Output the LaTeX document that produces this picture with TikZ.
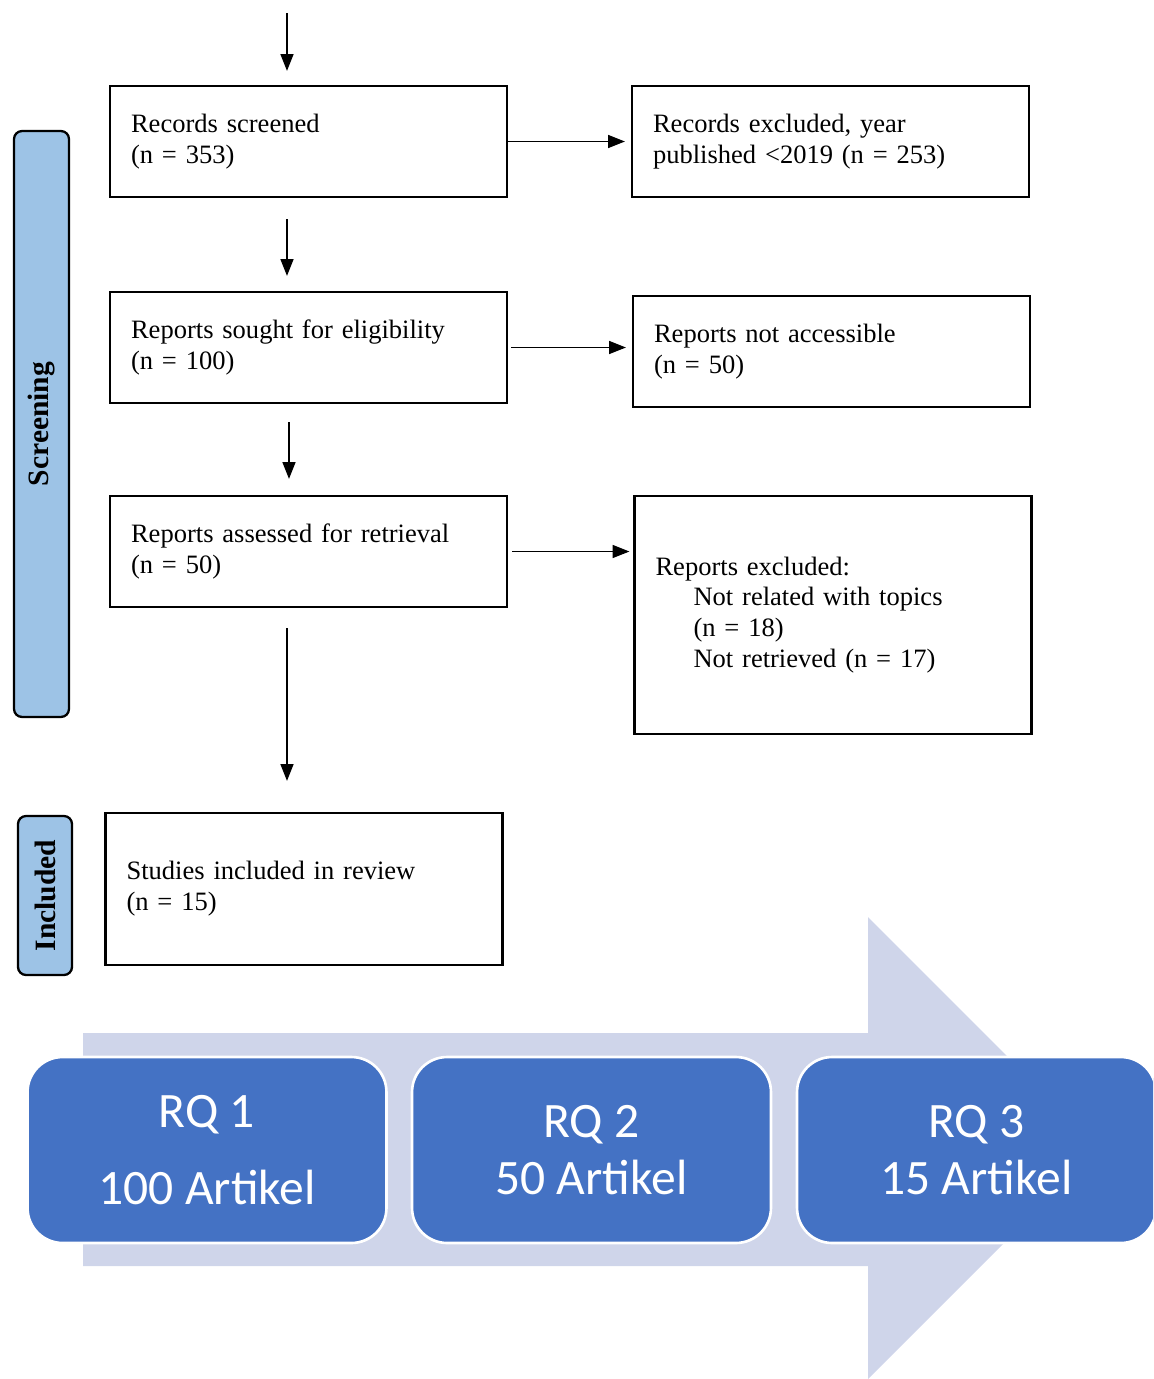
\documentclass[tikz,border=0pt]{standalone}
\usepackage{fontspec}
\setmainfont{Liberation Serif}
\newfontfamily\rqfont{Carlito}
\usetikzlibrary{arrows.meta}
\definecolor{labelblue}{HTML}{9DC3E6}
\definecolor{rqblue}{HTML}{4472C4}
\definecolor{arrowshade}{HTML}{CFD5EA}
\tikzset{
  flowbox/.style={draw=black, line width=1.3pt, minimum width=7.94cm, minimum height=2.22cm,
    inner xsep=0.42cm, text width=7.1cm, align=left, font=\fontsize{15.1}{17.6}\selectfont},
  phase/.style={draw=black, line width=1.3pt, fill=labelblue, rounded corners=0.16cm, rotate=90,
    font=\bfseries\fontsize{16.8}{20}\selectfont},
  rqbox/.style={draw=white, line width=1.5pt, fill=rqblue, rounded corners=0.7cm,
    minimum width=7.18cm, minimum height=3.72cm, text=white, align=center,
    font=\rqfont\fontsize{28.2}{32}\selectfont},
  flow/.style={-{Triangle[length=9.5pt,width=7.4pt]}, line width=0.6pt},
}
\begin{document}
\begin{tikzpicture}[x=0.02cm, y=-0.02cm]
  \useasboundingbox (0,0) rectangle (1153,1379);
  \clip (0,0) rectangle (1153,1379);
  % phase labels
  \node[phase, minimum width=11.72cm, minimum height=1.1cm] (screening) at (41.5,424) {Screening};
  \node[phase, minimum width=3.18cm, minimum height=1.08cm] (included) at (45,895.5) {Included};
  % main column
  \coordinate (spine) at (287,13);
  \node[flowbox] (screened) at (308.5,141.5) {Records screened\\(n = 353)};
  \node[flowbox] (sought) at (308.5,347.5) {Reports sought for eligibility\\(n = 100)};
  \node[flowbox] (assessed) at (308.5,551.5) {Reports assessed for retrieval\\(n = 50)};
  \node[flowbox, minimum height=3.04cm] (studies) at (304,889) {Studies included in review\\(n = 15)};
  % exclusions
  \node[flowbox] (exyear) at (830.5,141.5) {Records excluded, year\\published <2019 (n = 253)};
  \node[flowbox] (exaccess) at (831.5,351.5) {Reports not accessible\\(n = 50)};
  \node[flowbox, minimum height=4.76cm] (exreports) at (833,615)
    {Reports excluded:\\\hspace*{0.76cm}Not related with topics\\\hspace*{0.76cm}(n = 18)\\\hspace*{0.76cm}Not retrieved (n = 17)};
  % connectors
  \draw[flow, shorten >=0.28cm] (spine) -- (screened.north -| spine);
  \draw[flow, shorten <=0.42cm, shorten >=0.3cm] (screened.south -| spine) -- (sought.north -| spine);
  \draw[flow, shorten <=0.36cm, shorten >=0.32cm] ([xshift=0.04cm]sought.south -| spine) -- ([xshift=0.04cm]assessed.north -| spine);
  \draw[flow, shorten <=0.4cm, shorten >=0.62cm] (assessed.south -| spine) -- (studies.north -| spine);
  \draw[flow, shorten >=0.12cm] (screened.east) -- (exyear.west);
  \draw[flow, shorten <=0.06cm, shorten >=0.12cm] (sought.east) -- (sought.east -| exaccess.west);
  \draw[flow, shorten <=0.08cm, shorten >=0.08cm] (assessed.east) -- (assessed.east -| exreports.west);
  % research question band
  \fill[arrowshade] (83,1033) -- (868,1033) -- (868,917) -- (1099,1148) -- (868,1379) -- (868,1266) -- (83,1266) -- cycle;
  \node[rqbox] (rqone) at (207,1150) {RQ 1\\[11.9pt]100 Artikel};
  \node[rqbox] (rqtwo) at (591.5,1150) {RQ 2\\50 Artikel};
  \node[rqbox] (rqthree) at (976.5,1150) {RQ 3\\15 Artikel};
\end{tikzpicture}
\end{document}
